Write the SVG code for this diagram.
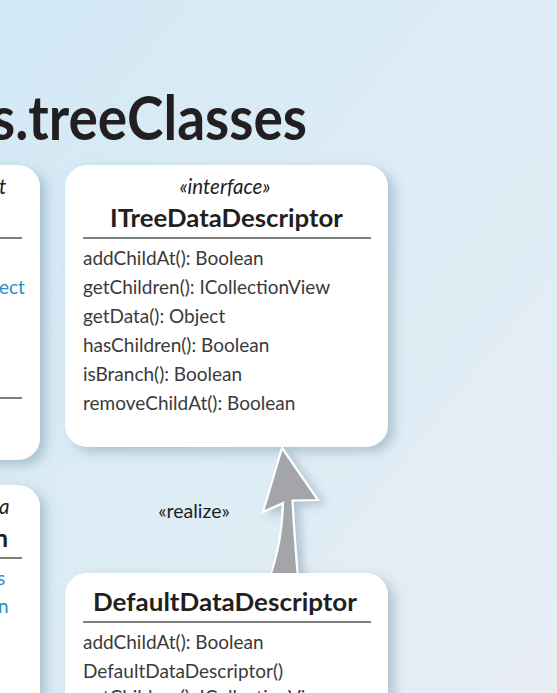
<svg xmlns="http://www.w3.org/2000/svg" width="557" height="693" viewBox="0 0 557 693">
  <defs>
    <linearGradient id="bg" x1="0" y1="0" x2="1" y2="1">
      <stop offset="0" stop-color="#d2e9f6"/>
      <stop offset="0.6" stop-color="#dfedf5"/>
      <stop offset="1" stop-color="#e8ecf5"/>
    </linearGradient>
    <filter id="shadow" x="-20%" y="-20%" width="140%" height="140%">
      <feDropShadow dx="6" dy="5" stdDeviation="6" flood-color="#4f7189" flood-opacity="0.35"/>
    </filter>
    <filter id="ashadow" x="-50%" y="-20%" width="200%" height="140%">
      <feDropShadow dx="6" dy="4" stdDeviation="5" flood-color="#4f7189" flood-opacity="0.35"/>
    </filter>
  </defs>
  <style>
    .box { fill: #ffffff; filter: url(#shadow); }
    .sep { stroke: #555555; stroke-width: 1.3; }
    .title { font-family: Lato, "Open Sans", sans-serif; font-weight: 700; font-size: 25px; fill: #231f20; }
    .stereo { font-family: Lato, "Open Sans", sans-serif; font-style: italic; font-size: 20.5px; fill: #231f20; }
    .item { font-family: Lato, "Open Sans", sans-serif; font-size: 19px; fill: #3a3a3a; }
    .link { font-family: Lato, "Open Sans", sans-serif; font-size: 19px; fill: #2a8fc1; }
    .label { font-family: Lato, "Open Sans", sans-serif; font-size: 19.5px; fill: #231f20; }
    .arrow { fill: #a4a5a9; stroke: #ffffff; stroke-width: 2.2; stroke-linejoin: miter; }
  </style>

  <rect x="0" y="0" width="557" height="693" fill="url(#bg)"/>

  <text x="-9" y="140" textLength="316" lengthAdjust="spacingAndGlyphs" font-family="Lato, 'Open Sans', sans-serif" font-weight="700" font-size="62" fill="#231f20">s.treeClasses</text>

  <g id="node-left-top">
    <rect class="box" x="-300" y="165" width="340" height="295" rx="22"/>
    <text class="stereo" x="-1" y="194">t</text>
    <line class="sep" x1="-300" y1="238" x2="22" y2="238"/>
    <text class="link" x="-1" y="294">ect</text>
    <line class="sep" x1="-300" y1="398" x2="22" y2="398"/>
  </g>

  <g id="node-left-bottom">
    <rect class="box" x="-300" y="485" width="340" height="260" rx="22"/>
    <text class="stereo" x="-1" y="514">a</text>
    <text class="title" x="-6" y="547">n</text>
    <line class="sep" x1="-300" y1="558" x2="22" y2="558"/>
    <text class="link" x="-3" y="585">s</text>
    <text class="link" x="-2" y="613">n</text>
  </g>

  <g id="node-itreedatadescriptor">
    <rect class="box" x="65" y="165" width="323" height="282" rx="22"/>
    <text class="stereo" x="225" y="194" text-anchor="middle">«interface»</text>
    <text class="title" x="110" y="227" textLength="233" lengthAdjust="spacingAndGlyphs">ITreeDataDescriptor</text>
    <line class="sep" x1="83" y1="238" x2="371" y2="238"/>
    <text class="item" x="83" y="265">addChildAt(): Boolean</text>
    <text class="item" x="83" y="294">getChildren(): ICollectionView</text>
    <text class="item" x="83" y="323">getData(): Object</text>
    <text class="item" x="83" y="352">hasChildren(): Boolean</text>
    <text class="item" x="83" y="381">isBranch(): Boolean</text>
    <text class="item" x="83" y="410">removeChildAt(): Boolean</text>
  </g>

  <g id="connectors">
    <path class="arrow" filter="url(#ashadow)" d="M282,448 L318,500 L292.5,500.5 C294,530 296,556 299,590 L266,590 C275,562 282,540 283,503 L263,512 Z"/>
    <text class="label" x="194" y="518" text-anchor="middle">«realize»</text>
  </g>

  <g id="node-defaultdatadescriptor">
    <rect class="box" x="65" y="573" width="323" height="200" rx="22"/>
    <text class="title" x="93" y="611" textLength="264" lengthAdjust="spacingAndGlyphs">DefaultDataDescriptor</text>
    <line class="sep" x1="83" y1="622" x2="371" y2="622"/>
    <text class="item" x="83" y="649">addChildAt(): Boolean</text>
    <text class="item" x="83" y="678">DefaultDataDescriptor()</text>
    <text class="item" x="83" y="704">getChildren(): ICollectionView</text>
  </g>
</svg>
